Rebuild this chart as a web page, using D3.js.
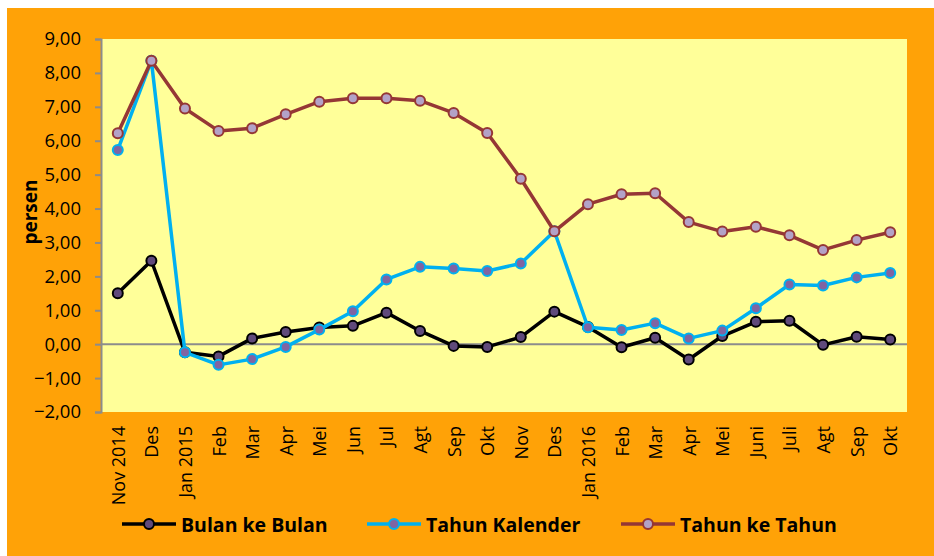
<!DOCTYPE html>
<html>
<head>
<meta charset="utf-8">
<script src="https://cdn.jsdelivr.net/npm/d3@7"></script>
<style>
  body { margin: 0; background: #fff; }
  svg { display: block; font-family: "Open Sans", sans-serif; }
</style>
</head>
<body>
<div id="chart"></div>
<script>
var months = ['Nov 2014', 'Des', 'Jan 2015', 'Feb', 'Mar', 'Apr', 'Mei', 'Jun', 'Jul', 'Agt', 'Sep', 'Okt',
    'Nov', 'Des ', 'Jan 2016', 'Feb ', 'Mar ', 'Apr ', 'Mei ', 'Juni', 'Juli', 'Agt ', 'Sep ', 'Okt '];

var bulan_ke_bulan = [1.50, 2.46, -0.24, -0.36, 0.17, 0.36, 0.49, 0.54, 0.93, 0.39, -0.05, -0.08,
    0.21, 0.96, 0.51, -0.09, 0.19, -0.45, 0.24, 0.66, 0.69, -0.02, 0.22, 0.14];

var tahun_kalender = [5.73, 8.36, -0.24, -0.61, -0.44, -0.08, 0.43, 0.97, 1.91, 2.28, 2.23, 2.16,
    2.38, 3.33, 0.50, 0.42, 0.62, 0.17, 0.40, 1.06, 1.76, 1.73, 1.97, 2.10];

var tahun_ke_tahun = [6.22, 8.36, 6.95, 6.29, 6.37, 6.78, 7.15, 7.25, 7.25, 7.18, 6.82, 6.23,
    4.88, 3.33, 4.13, 4.42, 4.45, 3.60, 3.32, 3.46, 3.21, 2.78, 3.07, 3.30];

var y_ticks = [-2, -1, 0, 1, 2, 3, 4, 5, 6, 7, 8, 9];

var series = [
    { name: 'Bulan ke Bulan', values: bulan_ke_bulan, line: '#000000', fill: '#604a7b', stroke: '#000000', lx: 122 },
    { name: 'Tahun Kalender', values: tahun_kalender, line: '#00b0f0', fill: '#8064a2', stroke: '#00b0f0', lx: 367 },
    { name: 'Tahun ke Tahun', values: tahun_ke_tahun, line: '#953735', fill: '#b3a2c7', stroke: '#953735', lx: 621 }
];

var width = 934;
var height = 556;
var plot = { left: 101, top: 39, right: 907, bottom: 412 };

var svg = d3.select('#chart')
    .append('svg')
    .attr('width', width)
    .attr('height', height);

// orange frame
svg.append('rect')
    .attr('x', 7)
    .attr('y', 8)
    .attr('width', width - 7)
    .attr('height', height - 8)
    .style('fill', '#ffa207');

svg.append('rect')
    .attr('x', plot.left)
    .attr('y', plot.top)
    .attr('width', plot.right - plot.left)
    .attr('height', plot.bottom - plot.top)
    .style('fill', '#ffff99');

var x = d3.scaleBand()
    .domain(months)
    .range([plot.left, plot.right]);

var y = d3.scaleLinear()
    .domain([-2, 9])
    .range([plot.bottom, plot.top]);

// zero line
svg.append('line')
    .attr('x1', plot.left)
    .attr('x2', plot.right)
    .attr('y1', y(0))
    .attr('y2', y(0))
    .style('stroke', '#8c8c8c')
    .style('stroke-width', 2);

// y axis
var yAxis = svg.append('g')
    .attr('transform', 'translate(' + plot.left + ',0)')
    .call(d3.axisLeft(y)
        .tickValues(y_ticks)
        .tickSize(6)
        .tickPadding(14)
        .tickFormat(function(d) {
            return d3.format('.2f')(d).replace('.', ',');
        }));

yAxis.select('.domain')
    .style('stroke', '#8c8c8c')
    .style('stroke-width', 2);
yAxis.selectAll('.tick line')
    .style('stroke', '#8c8c8c')
    .style('stroke-width', 2);
yAxis.selectAll('.tick text')
    .style('font-family', '"Open Sans", sans-serif')
    .style('font-size', '18.5px')
    .style('fill', '#000');

// x labels
svg.selectAll('text.xlabel')
    .data(months)
    .enter()
    .append('text')
    .attr('class', 'xlabel')
    .attr('text-anchor', 'end')
    .attr('dominant-baseline', 'central')
    .attr('transform', function(d) {
        return 'translate(' + (x(d) + x.bandwidth() / 2) + ',426) rotate(-90)';
    })
    .style('font-size', '18px')
    .style('fill', '#000')
    .text(function(d) { return d.trim(); });

// axis title
svg.append('text')
    .attr('text-anchor', 'middle')
    .attr('dominant-baseline', 'central')
    .attr('transform', 'translate(30,212) rotate(-90)')
    .style('font-size', '19px')
    .style('font-weight', 'bold')
    .text('persen');

var line = d3.line()
    .x(function(d, i) { return x(months[i]) + x.bandwidth() / 2; })
    .y(function(d) { return y(d); });

// draw lines then markers, in order
series.forEach(function(s) {
    var g = svg.append('g');
    g.append('path')
        .datum(s.values)
        .attr('d', line)
        .style('fill', 'none')
        .style('stroke', s.line)
        .style('stroke-width', 3.5)
        .style('stroke-linejoin', 'round');
    g.selectAll('circle')
        .data(s.values)
        .enter()
        .append('circle')
        .attr('cx', function(d, i) { return x(months[i]) + x.bandwidth() / 2; })
        .attr('cy', function(d) { return y(d); })
        .attr('r', 5)
        .style('fill', s.fill)
        .style('stroke', s.stroke)
        .style('stroke-width', 2);
});

// legend
var legend = svg.selectAll('g.legend')
    .data(series)
    .enter()
    .append('g')
    .attr('class', 'legend')
    .attr('transform', function(d) { return 'translate(' + d.lx + ',524)'; });

legend.append('line')
    .attr('x1', 0)
    .attr('x2', 54)
    .style('stroke', function(d) { return d.line; })
    .style('stroke-width', 3.5);

legend.append('circle')
    .attr('cx', 27)
    .attr('r', 5)
    .style('fill', function(d) { return d.fill; })
    .style('stroke', function(d) { return d.stroke; })
    .style('stroke-width', 2);

legend.append('text')
    .attr('x', 59)
    .attr('dominant-baseline', 'central')
    .style('font-size', '19.5px')
    .style('font-weight', 'bold')
    .text(function(d) { return d.name; });
</script>
</body>
</html>
